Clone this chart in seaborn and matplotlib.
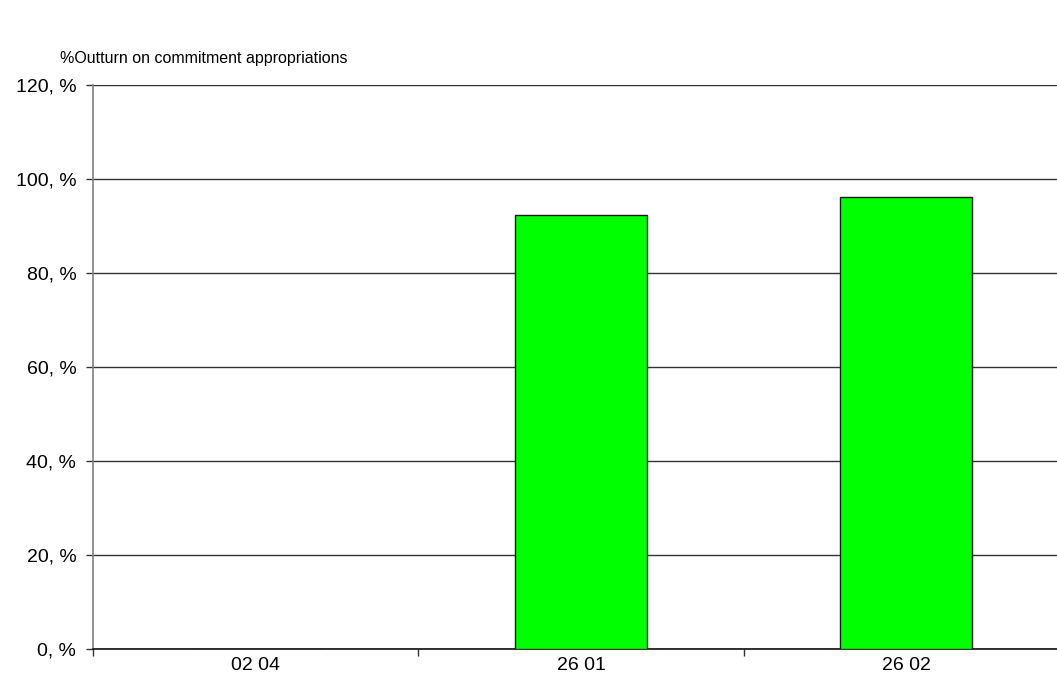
import matplotlib
matplotlib.use("Agg")
import matplotlib.pyplot as plt
import seaborn as sns
import pandas as pd
import numpy as np

categories = ["02 04", "26 01", "26 02"]
values = [0.0, 92.3, 96.2]
yticks = [0, 20, 40, 60, 80, 100, 120]
ytick_labels = ["0, %", "20, %", "40, %", "60, %", "80, %", "100, %", "120, %"]
title = "%Outturn on commitment appropriations"

sns.set_style("white")
plt.rcParams['font.family'] = ['Liberation Sans', 'DejaVu Sans']
plt.rcParams['text.color'] = 'black'
plt.rcParams['xtick.color'] = 'black'
plt.rcParams['ytick.color'] = 'black'

df = pd.DataFrame({"cat": categories, "val": values})

fig = plt.figure(figsize=(10.57, 6.93), dpi=100)
W, H = 1057, 693
ax = fig.add_axes([93 / W, 44 / H, (1069 - 93) / W, (649 - 85) / H])

sns.barplot(data=df, x="cat", y="val", order=categories, color="#00FF00",
            width=0.406, edgecolor="#1a1a1a", linewidth=1.0, saturation=1,
            ax=ax, zorder=3)

ax.set_ylim(0, 120)
ax.set_xlim(-0.5, 2.5)
ax.set_yticks(yticks)
ax.set_yticklabels(ytick_labels, fontsize=14)
ax.set_xticks(range(len(categories)))
ax.set_xticklabels(categories, fontsize=14)
ax.set_xticks([-0.5, 0.5, 1.5], minor=True)
ax.tick_params(axis="x", which="major", length=0, pad=6, bottom=True)
ax.tick_params(axis="x", which="minor", length=5, width=1, color="#333333", bottom=True)
ax.tick_params(axis="y", which="major", length=5, width=1, color="#333333", pad=7, left=True)
ax.set_xlabel("")
ax.set_ylabel("")

ax.yaxis.grid(True, color="#333333", linewidth=1.0, zorder=0)
ax.xaxis.grid(False)
for s in ["top", "right"]:
    ax.spines[s].set_visible(False)
ax.spines["left"].set_color("#808080")
ax.spines["left"].set_linewidth(1.2)
ax.spines["bottom"].set_color("#111111")
ax.spines["bottom"].set_linewidth(1.2)
ax.set_axisbelow(True)

fig.text(60 / W, 1 - 58 / H, title, fontsize=11.5, va="center", ha="left", color="black")

fig.savefig("out.png", dpi=100)
